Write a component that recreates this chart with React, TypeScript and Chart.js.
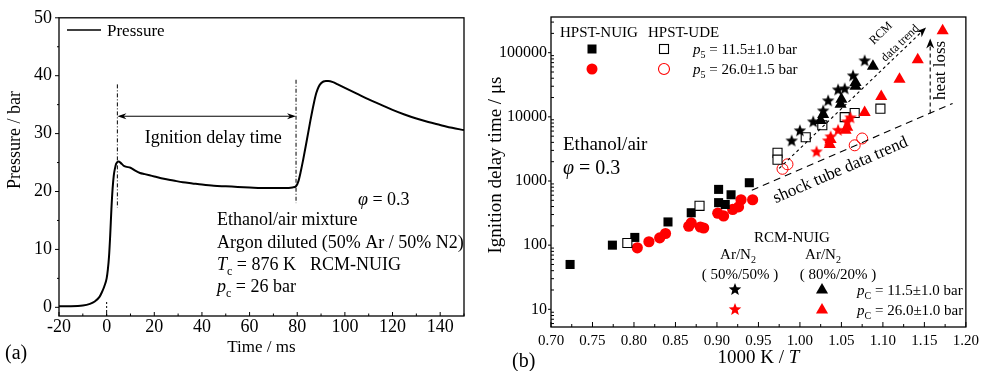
import React, { useEffect, useRef } from "react";
import { Chart, registerables } from "chart.js";
Chart.register(...registerables);

const SERIF = '"Liberation Serif", "Times New Roman", serif';

// ---------- Panel (a): pressure trace ----------
const TIME_MS = [-20, -15, -10, -7, -5, -3, -2, -1, 0, 0.5, 1, 1.5, 2, 2.5, 3, 3.5, 4, 4.5, 5, 6, 7, 8, 10, 12, 14, 16, 18, 20, 24, 28, 32, 36, 40, 45, 50, 55, 60, 65, 70, 75, 78, 79.5, 80.5, 81.5, 82.5, 84, 85.5, 87, 88, 89, 90, 91, 92, 93, 95, 97, 100, 105, 110, 115, 120, 125, 130, 135, 140, 145, 150];
const PRESSURE_BAR = [0.2, 0.2, 0.3, 0.6, 1.0, 1.8, 2.6, 3.6, 5.0, 6.5, 8.8, 12.5, 17, 20.5, 22.8, 24.0, 24.8, 25.1, 25.2, 24.9, 24.5, 24.3, 24.1, 23.6, 23.2, 23.0, 22.8, 22.6, 22.2, 21.9, 21.6, 21.4, 21.2, 21.0, 20.9, 20.8, 20.7, 20.6, 20.6, 20.6, 20.7, 20.9, 21.8, 23.5, 25.5, 28.8, 32.2, 35.3, 37.0, 38.1, 38.7, 39.0, 39.1, 39.1, 38.9, 38.5, 37.9, 36.9, 35.9, 35.0, 34.1, 33.3, 32.6, 32.0, 31.5, 31.0, 30.6];
const A_X_TICKS = [-20, 0, 20, 40, 60, 80, 100, 120, 140];
const A_Y_TICKS = [0, 10, 20, 30, 40, 50];
const IGN_START_MS = 4.5;
const IGN_END_MS = 79.5;
const IGN_ARROW_BAR = 33;

// ---------- Panel (b): ignition delay times ----------
const HPST_NUIG_P11_X = [0.723, 0.774, 0.801, 0.841, 0.869, 0.902, 0.902, 0.910, 0.917, 0.939];
const HPST_NUIG_P11_Y = [50, 100, 132, 230, 320, 740, 460, 430, 610, 940];
const HPST_UDE_P11_X = [0.792, 0.879, 0.973, 0.973, 1.007, 1.027, 1.054, 1.066, 1.097];
const HPST_UDE_P11_Y = [108, 410, 2750, 2150, 4800, 7400, 9900, 11500, 13400];
const HPST_NUIG_P26_X = [0.804, 0.818, 0.831, 0.838, 0.866, 0.869, 0.880, 0.884, 0.901, 0.908, 0.919, 0.926, 0.929, 0.943];
const HPST_NUIG_P26_Y = [91, 113, 130, 152, 197, 222, 192, 185, 315, 285, 360, 395, 510, 510];
const HPST_UDE_P26_X = [0.979, 0.985, 1.066, 1.075];
const HPST_UDE_P26_Y = [1550, 1820, 3600, 4600];
const RCM_5050_P11_X = [0.990, 1.000, 1.016, 1.028, 1.034, 1.046, 1.054, 1.064, 1.078];
const RCM_5050_P11_Y = [4290, 6170, 8510, 12600, 18100, 26800, 27800, 44300, 75900];
const RCM_8020_P11_X = [1.025, 1.028, 1.049, 1.050, 1.067, 1.067, 1.088];
const RCM_8020_P11_Y = [8810, 10900, 15700, 18800, 29900, 34400, 61200];
const RCM_5050_P26_X = [1.020, 1.034, 1.037, 1.046, 1.057, 1.061];
const RCM_5050_P26_Y = [2900, 4300, 4970, 6280, 8510, 9820];
const RCM_8020_P26_X = [1.036, 1.037, 1.055, 1.057, 1.078, 1.098, 1.120, 1.142, 1.172];
const RCM_8020_P26_Y = [3720, 4450, 6170, 6870, 11700, 20800, 38400, 77300, 219000];

const B_X_TICKS = [0.7, 0.75, 0.8, 0.85, 0.9, 0.95, 1.0, 1.05, 1.1, 1.15, 1.2];
const B_Y_TICKS = [10, 100, 1000, 10000, 100000];
const SHOCK_TREND_X = [0.942, 1.184];
const SHOCK_TREND_Y = [716, 16200];
const RCM_TREND_X = [0.975, 1.152];
const RCM_TREND_Y = [1570, 248000];
const HEAT_LOSS_X = 1.157;
const HEAT_LOSS_Y = [11300, 167000];

const RED = "#ff0000";

const pts = (xs: number[], ys: number[]) => xs.map((x, i) => ({ x, y: ys[i] }));

type Part = { t: string; it?: boolean; sub?: boolean };
function fontOf(p: Part, size: number) {
  const s = p.sub ? Math.round(size * 0.68) : size;
  return `${p.it ? "italic " : ""}${s}px ${SERIF}`;
}
function rich(ctx: CanvasRenderingContext2D, x: number, y: number, parts: Part[], size: number, align = "left") {
  ctx.save();
  ctx.textBaseline = "alphabetic";
  ctx.textAlign = "left";
  const w = parts.map((p) => {
    ctx.font = fontOf(p, size);
    return ctx.measureText(p.t).width;
  });
  const total = w.reduce((a, b) => a + b, 0);
  let cx = align === "center" ? x - total / 2 : align === "right" ? x - total : x;
  parts.forEach((p, i) => {
    ctx.font = fontOf(p, size);
    ctx.fillText(p.t, cx, p.sub ? y + size * 0.25 : y);
    cx += w[i];
  });
  ctx.restore();
}
function rotText(ctx: CanvasRenderingContext2D, x: number, y: number, angle: number, text: string, size: number) {
  ctx.save();
  ctx.translate(x, y);
  ctx.rotate(angle);
  ctx.font = `${size}px ${SERIF}`;
  ctx.textAlign = "center";
  ctx.textBaseline = "middle";
  ctx.fillText(text, 0, 0);
  ctx.restore();
}
function seg(ctx: CanvasRenderingContext2D, x1: number, y1: number, x2: number, y2: number) {
  ctx.beginPath();
  ctx.moveTo(x1, y1);
  ctx.lineTo(x2, y2);
  ctx.stroke();
}
function arrowHead(ctx: CanvasRenderingContext2D, x: number, y: number, ang: number, len = 9, half = 3.5) {
  ctx.save();
  ctx.translate(x, y);
  ctx.rotate(ang);
  ctx.setLineDash([]);
  ctx.beginPath();
  ctx.moveTo(0, 0);
  ctx.lineTo(-len, -half);
  ctx.lineTo(-len * 0.7, 0);
  ctx.lineTo(-len, half);
  ctx.closePath();
  ctx.fill();
  ctx.restore();
}
function makeStar(color: string, R = 6.6, r = 2.8) {
  const c = document.createElement("canvas");
  const s = Math.ceil(R * 2 + 2);
  c.width = s;
  c.height = s;
  const g = c.getContext("2d")!;
  g.fillStyle = color;
  g.beginPath();
  for (let i = 0; i < 10; i++) {
    const rad = i % 2 ? r : R;
    const a = -Math.PI / 2 + (i * Math.PI) / 5;
    const px = s / 2 + rad * Math.cos(a);
    const py = s / 2 + 0.6 + rad * Math.sin(a);
    if (i) g.lineTo(px, py);
    else g.moveTo(px, py);
  }
  g.closePath();
  g.fill();
  return c;
}
function triangle(ctx: CanvasRenderingContext2D, x: number, y: number, r: number, color: string) {
  ctx.save();
  ctx.fillStyle = color;
  ctx.beginPath();
  for (let i = 0; i < 3; i++) {
    const a = -Math.PI / 2 + (i * 2 * Math.PI) / 3;
    const px = x + r * Math.cos(a);
    const py = y + r * Math.sin(a);
    if (i) ctx.lineTo(px, py);
    else ctx.moveTo(px, py);
  }
  ctx.closePath();
  ctx.fill();
  ctx.restore();
}

const pluginA = {
  id: "decorA",
  afterDraw(chart: any) {
    const { ctx, chartArea: ca, scales } = chart;
    const x = scales.x;
    const y = scales.y;
    ctx.save();
    ctx.strokeStyle = "#000";
    ctx.fillStyle = "#000";
    ctx.lineWidth = 1.3;
    ctx.strokeRect(ca.left, ca.top, ca.right - ca.left, ca.bottom - ca.top);
    ctx.lineWidth = 1;
    A_Y_TICKS.forEach((v) => {
      const py = y.getPixelForValue(v);
      seg(ctx, ca.left - 4, py, ca.left, py);
      if (v + 5 < 50) {
        const pm = y.getPixelForValue(v + 5);
        seg(ctx, ca.left - 2, pm, ca.left, pm);
      }
    });
    A_X_TICKS.forEach((v) => {
      const px = x.getPixelForValue(v);
      seg(ctx, px, ca.bottom, px, ca.bottom - 4);
      const pm = x.getPixelForValue(v + 10);
      seg(ctx, pm, ca.bottom, pm, ca.bottom - 2.5);
    });
    // ignition delay markers (dash-dot)
    ctx.setLineDash([4, 2, 1, 2]);
    seg(ctx, x.getPixelForValue(IGN_START_MS), y.getPixelForValue(38.5), x.getPixelForValue(IGN_START_MS), y.getPixelForValue(17.2));
    seg(ctx, x.getPixelForValue(IGN_END_MS), y.getPixelForValue(39.3), x.getPixelForValue(IGN_END_MS), y.getPixelForValue(18.0));
    ctx.setLineDash([2, 2]);
    seg(ctx, x.getPixelForValue(0), y.getPixelForValue(-1.5), x.getPixelForValue(0), y.getPixelForValue(1.2));
    ctx.setLineDash([]);
    const ay = y.getPixelForValue(IGN_ARROW_BAR);
    const ax1 = x.getPixelForValue(IGN_START_MS);
    const ax2 = x.getPixelForValue(IGN_END_MS);
    seg(ctx, ax1 + 3, ay, ax2 - 3, ay);
    arrowHead(ctx, ax2, ay, 0, 9, 3);
    arrowHead(ctx, ax1, ay, Math.PI, 9, 3);
    // legend
    ctx.lineWidth = 1.6;
    seg(ctx, ca.left + 8, 30, ca.left + 42, 30);
    rich(ctx, ca.left + 48, 36, [{ t: "Pressure" }], 17);
    // texts
    ctx.textAlign = "center";
    ctx.textBaseline = "middle";
    ctx.font = `18px ${SERIF}`;
    ctx.fillText("Ignition delay time", x.getPixelForValue(44.7), y.getPixelForValue(29.2));
    rich(ctx, 358, 205, [{ t: "φ", it: true }, { t: " = 0.3" }], 18);
    rich(ctx, 217, 225, [{ t: "Ethanol/air mixture" }], 18);
    rich(ctx, 217, 248, [{ t: "Argon diluted (50% Ar / 50% N2)" }], 18);
    rich(ctx, 217, 270, [{ t: "T", it: true }, { t: "c", sub: true }, { t: " = 876 K" }], 18);
    rich(ctx, 310, 270, [{ t: "RCM-NUIG" }], 18);
    rich(ctx, 217, 292, [{ t: "p", it: true }, { t: "c", sub: true }, { t: " = 26 bar" }], 18);
    // axis titles
    rotText(ctx, 15, 140, -Math.PI / 2, "Pressure / bar", 18);
    rich(ctx, (ca.left + ca.right) / 2, 352, [{ t: "Time / ms" }], 17, "center");
    rich(ctx, 5, 359, [{ t: "(a)" }], 20);
    ctx.restore();
  },
};

const pluginB = {
  id: "decorB",
  afterDraw(chart: any) {
    const { ctx, chartArea: ca, scales } = chart;
    const x = scales.x;
    const y = scales.y;
    ctx.save();
    ctx.strokeStyle = "#000";
    ctx.fillStyle = "#000";
    ctx.lineWidth = 1.3;
    ctx.strokeRect(ca.left, ca.top, ca.right - ca.left, ca.bottom - ca.top);
    ctx.lineWidth = 1;
    B_X_TICKS.forEach((v) => {
      const px = x.getPixelForValue(v);
      seg(ctx, px, ca.bottom, px, ca.bottom - 5);
      if (v < 1.19) {
        const pm = x.getPixelForValue(v + 0.025);
        seg(ctx, pm, ca.bottom, pm, ca.bottom - 3);
      }
    });
    B_Y_TICKS.forEach((v) => {
      const py = y.getPixelForValue(v);
      seg(ctx, ca.left - 3, py, ca.left, py);
    });
    for (let e = 0; e <= 5; e++) {
      for (let m = 2; m <= 9; m++) {
        const v = m * Math.pow(10, e);
        if (v > y.min && v < y.max) {
          const py = y.getPixelForValue(v);
          seg(ctx, ca.left, py, ca.left + 3, py);
        }
      }
    }
    // shock tube trend
    const s1x = x.getPixelForValue(SHOCK_TREND_X[0]);
    const s1y = y.getPixelForValue(SHOCK_TREND_Y[0]);
    const s2x = x.getPixelForValue(SHOCK_TREND_X[1]);
    const s2y = y.getPixelForValue(SHOCK_TREND_Y[1]);
    ctx.lineWidth = 1.1;
    ctx.setLineDash([7, 5]);
    seg(ctx, s1x, s1y, s2x, s2y);
    // RCM trend
    const r1x = x.getPixelForValue(RCM_TREND_X[0]);
    const r1y = y.getPixelForValue(RCM_TREND_Y[0]);
    const r2x = x.getPixelForValue(RCM_TREND_X[1]);
    const r2y = y.getPixelForValue(RCM_TREND_Y[1]);
    ctx.setLineDash([3, 3]);
    seg(ctx, r1x, r1y, r2x - 4, r2y + 4);
    const rAng = Math.atan2(r2y - r1y, r2x - r1x);
    arrowHead(ctx, r2x, r2y, rAng, 10, 4);
    // heat loss
    const hx = x.getPixelForValue(HEAT_LOSS_X);
    const h1 = y.getPixelForValue(HEAT_LOSS_Y[0]);
    const h2 = y.getPixelForValue(HEAT_LOSS_Y[1]);
    ctx.setLineDash([4, 3]);
    seg(ctx, hx, h1, hx, h2 + 5);
    arrowHead(ctx, hx, h2, -Math.PI / 2, 10, 4);
    ctx.setLineDash([]);
    // rotated annotation texts
    const sAng = Math.atan2(s2y - s1y, s2x - s1x);
    rotText(ctx, x.getPixelForValue(1.049), y.getPixelForValue(1470), sAng, "shock tube data trend", 17);
    rotText(ctx, x.getPixelForValue(1.098), y.getPixelForValue(200000), rAng, "RCM", 12);
    rotText(ctx, x.getPixelForValue(1.121), y.getPixelForValue(140000), rAng, "data trend", 12);
    rotText(ctx, x.getPixelForValue(1.169), y.getPixelForValue(53000), -Math.PI / 2, "heat loss", 17);
    // top-left legend
    rich(ctx, 80, 37, [{ t: "HPST-NUIG" }], 15);
    rich(ctx, 168, 37, [{ t: "HPST-UDE" }], 15);
    ctx.fillRect(112 - 4.5, 49 - 4.5, 9, 9);
    ctx.fillStyle = "#fff";
    ctx.fillRect(184 - 4.5, 49 - 4.5, 9, 9);
    ctx.strokeRect(184 - 4.5, 49 - 4.5, 9, 9);
    ctx.fillStyle = RED;
    ctx.beginPath();
    ctx.arc(112, 69, 5.5, 0, Math.PI * 2);
    ctx.fill();
    ctx.strokeStyle = RED;
    ctx.beginPath();
    ctx.arc(184, 69, 5.5, 0, Math.PI * 2);
    ctx.stroke();
    ctx.fillStyle = "#000";
    ctx.strokeStyle = "#000";
    rich(ctx, 213, 54, [{ t: "p", it: true }, { t: "5", sub: true }, { t: " = 11.5±1.0 bar" }], 15);
    rich(ctx, 213, 74, [{ t: "p", it: true }, { t: "5", sub: true }, { t: " = 26.0±1.5 bar" }], 15);
    rich(ctx, 83, 150, [{ t: "Ethanol/air" }], 19);
    rich(ctx, 83, 174, [{ t: "φ", it: true }, { t: " = 0.3" }], 20);
    // bottom legend
    rich(ctx, 312, 242, [{ t: "RCM-NUIG" }], 15, "center");
    rich(ctx, 258, 259, [{ t: "Ar/N" }, { t: "2", sub: true }], 15, "center");
    rich(ctx, 260, 279, [{ t: "( 50%/50% )" }], 15, "center");
    rich(ctx, 343, 259, [{ t: "Ar/N" }, { t: "2", sub: true }], 15, "center");
    rich(ctx, 358, 279, [{ t: "( 80%/20% )" }], 15, "center");
    const sb = STAR_BLACK;
    const sr = STAR_RED;
    ctx.drawImage(sb, 255 - sb.width / 2, 289 - sb.height / 2);
    ctx.drawImage(sr, 255 - sr.width / 2, 309 - sr.height / 2);
    triangle(ctx, 342, 290, 7, "#000");
    triangle(ctx, 342, 310, 7, RED);
    rich(ctx, 377, 295, [{ t: "p", it: true }, { t: "C", sub: true }, { t: " = 11.5±1.0 bar" }], 15);
    rich(ctx, 377, 315, [{ t: "p", it: true }, { t: "C", sub: true }, { t: " = 26.0±1.0 bar" }], 15);
    // axis titles
    rotText(ctx, 16, 165, -Math.PI / 2, "Ignition delay time / μs", 19);
    rich(ctx, (ca.left + ca.right) / 2, 363, [{ t: "1000 K / " }, { t: "T", it: true }], 19, "center");
    rich(ctx, 32, 367, [{ t: "(b)" }], 20);
    ctx.restore();
  },
};

let STAR_BLACK: HTMLCanvasElement;
let STAR_RED: HTMLCanvasElement;

export default function App() {
  const refA = useRef<HTMLCanvasElement>(null);
  const refB = useRef<HTMLCanvasElement>(null);
  useEffect(() => {
    STAR_BLACK = makeStar("#000");
    STAR_RED = makeStar(RED);
    const tickFont = (size: number) => ({ family: SERIF, size });
    const a = new Chart(refA.current!, {
      type: "line",
      data: {
        datasets: [
          {
            data: pts(TIME_MS, PRESSURE_BAR),
            borderColor: "#000",
            borderWidth: 2,
            pointRadius: 0,
            cubicInterpolationMode: "monotone",
            fill: false,
          },
        ],
      },
      options: {
        responsive: false,
        animation: false,
        layout: { padding: { left: 0, right: 16, top: 16, bottom: 0 } },
        plugins: { legend: { display: false }, tooltip: { enabled: false } },
        scales: {
          x: {
            type: "linear",
            min: -20,
            max: 150,
            afterFit: (s: any) => {
              s.height = 55;
            },
            afterBuildTicks: (s: any) => {
              s.ticks = A_X_TICKS.map((v) => ({ value: v }));
            },
            grid: { display: false, drawTicks: false },
            border: { display: false },
            ticks: { color: "#000", font: tickFont(18), padding: 0, maxRotation: 0, autoSkip: false, callback: (v: any) => String(v) },
          },
          y: {
            type: "linear",
            min: -1.5,
            max: 50,
            afterFit: (s: any) => {
              s.width = 59;
            },
            afterBuildTicks: (s: any) => {
              s.ticks = A_Y_TICKS.map((v) => ({ value: v }));
            },
            grid: { display: false, drawTicks: false },
            border: { display: false },
            ticks: { color: "#000", font: tickFont(18), padding: 7, autoSkip: false, callback: (v: any) => String(v) },
          },
        },
      } as any,
      plugins: [pluginA],
    });
    const b = new Chart(refB.current!, {
      type: "scatter",
      data: {
        datasets: [
          { data: pts(RCM_5050_P11_X, RCM_5050_P11_Y), pointStyle: STAR_BLACK, pointRadius: 6 },
          { data: pts(RCM_8020_P11_X, RCM_8020_P11_Y), pointStyle: "triangle", pointRadius: 7, backgroundColor: "#000", borderWidth: 0 },
          { data: pts(RCM_5050_P26_X, RCM_5050_P26_Y), pointStyle: STAR_RED, pointRadius: 6 },
          { data: pts(RCM_8020_P26_X, RCM_8020_P26_Y), pointStyle: "triangle", pointRadius: 7, backgroundColor: RED, borderWidth: 0 },
          { data: pts(HPST_UDE_P11_X, HPST_UDE_P11_Y), pointStyle: "rect", pointRadius: 6.4, backgroundColor: "#fff", borderColor: "#000", borderWidth: 1.1 },
          { data: pts(HPST_UDE_P26_X, HPST_UDE_P26_Y), pointStyle: "circle", pointRadius: 5.5, backgroundColor: "rgba(255,255,255,0)", borderColor: RED, borderWidth: 1 },
          { data: pts(HPST_NUIG_P11_X, HPST_NUIG_P11_Y), pointStyle: "rect", pointRadius: 6.4, backgroundColor: "#000", borderWidth: 0 },
          { data: pts(HPST_NUIG_P26_X, HPST_NUIG_P26_Y), pointStyle: "circle", pointRadius: 5.6, backgroundColor: RED, borderWidth: 0 },
        ],
      },
      options: {
        responsive: false,
        animation: false,
        layout: { padding: { left: 0, right: 16, top: 17, bottom: 0 } },
        plugins: { legend: { display: false }, tooltip: { enabled: false } },
        scales: {
          x: {
            type: "linear",
            min: 0.7,
            max: 1.2,
            afterFit: (s: any) => {
              s.height = 44;
            },
            afterBuildTicks: (s: any) => {
              s.ticks = B_X_TICKS.map((v) => ({ value: v }));
            },
            grid: { display: false, drawTicks: false },
            border: { display: false },
            ticks: { color: "#000", font: tickFont(15), padding: 5, maxRotation: 0, autoSkip: false, callback: (v: any) => Number(v).toFixed(2) },
          },
          y: {
            type: "logarithmic",
            min: 5.3,
            max: 360000,
            afterFit: (s: any) => {
              s.width = 71;
            },
            afterBuildTicks: (s: any) => {
              s.ticks = B_Y_TICKS.map((v) => ({ value: v }));
            },
            grid: { display: false, drawTicks: false },
            border: { display: false },
            ticks: { color: "#000", font: tickFont(16), padding: 4, autoSkip: false, callback: (v: any) => String(v) },
          },
        },
      } as any,
      plugins: [pluginB],
    });
    return () => {
      a.destroy();
      b.destroy();
    };
  }, []);
  return (
    <div style={{ position: "absolute", left: 0, top: 0, width: 984, height: 371, background: "#fff" }}>
      <canvas ref={refA} width={480} height={371} style={{ position: "absolute", left: 0, top: 0, width: 480, height: 371 }} />
      <canvas ref={refB} width={504} height={371} style={{ position: "absolute", left: 480, top: 0, width: 504, height: 371 }} />
    </div>
  );
}
